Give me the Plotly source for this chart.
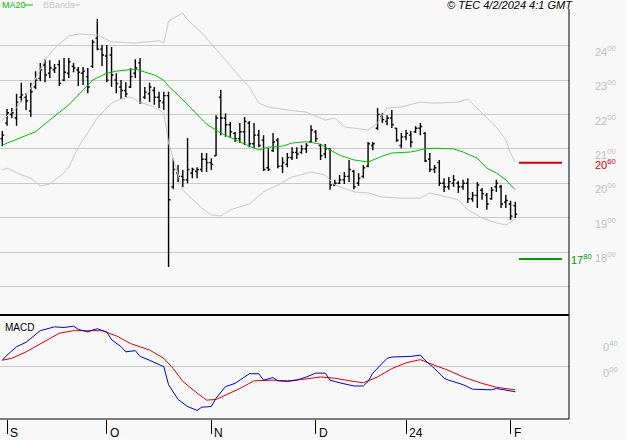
import plotly.graph_objects as go

W, H = 627, 440
def px(x): return x / W
def py(y): return 1 - y / H

# ---------------- data ----------------
# bar index 0 = 31 Aug 2023 ... 108 = 2 Feb 2024 (trading days)
highs = [2152, 2216, 2219, 2260, 2292, 2262, 2292, 2326, 2350, 2361,
         2358, 2347, 2358, 2364, 2364, 2350, 2338, 2338, 2335, 2417,
         2478, 2402, 2402, 2396, 2320, 2300, 2294, 2335, 2361, 2364,
         2280, 2292, 2280, 2266, 2266, 2266, 2073, 2053, 2039, 2132,
         2045, 2047, 2088, 2088, 2073, 2198, 2271, 2204, 2178, 2149,
         2175, 2193, 2181, 2175, 2155, 2140, 2102, 2146, 2132, 2076,
         2088, 2105, 2105, 2111, 2117, 2169, 2155, 2114, 2114, 2102,
         2010, 2024, 2033, 2068, 2039, 2030, 2053, 2120, 2120, 2219,
         2204, 2198, 2213, 2161, 2146, 2155, 2152, 2166, 2175, 2149,
         2088, 2053, 2068, 2015, 2018, 2024, 2007, 2010, 2015, 1975,
         2004, 1986, 1972, 1989, 2010, 1995, 1966, 1949, 1946]
lows = [2108, 2167, 2190, 2167, 2236, 2213, 2193, 2274, 2297, 2294,
        2306, 2321, 2283, 2297, 2306, 2323, 2283, 2286, 2262, 2335,
        2387, 2341, 2294, 2280, 2262, 2245, 2251, 2277, 2306, 2231,
        2245, 2236, 2228, 2219, 2213, 1757, 1983, 2004, 1989, 2000,
        2015, 2015, 2033, 2033, 2039, 2079, 2140, 2135, 2132, 2120,
        2117, 2111, 2105, 2102, 2105, 2036, 2036, 2091, 2044, 2030,
        2047, 2068, 2071, 2085, 2088, 2117, 2120, 2068, 2073, 1981,
        1992, 1998, 1998, 2004, 1983, 1992, 2015, 2047, 2096, 2155,
        2175, 2169, 2161, 2120, 2102, 2125, 2105, 2146, 2140, 2062,
        2033, 2030, 1992, 1975, 1981, 1989, 1972, 1981, 1943, 1946,
        1928, 1952, 1923, 1952, 1975, 1928, 1928, 1893, 1899]
opens = [2130, 2175, 2200, 2190, 2250, 2250, 2210, 2280, 2305, 2344,
         2320, 2330, 2345, 2300, 2320, 2340, 2330, 2320, 2310, 2340,
         2422, 2390, 2370, 2373, 2300, 2280, 2270, 2280, 2320, 2350,
         2250, 2260, 2270, 2250, 2235, 2255, 1990, 2030, 2020, 2010,
         2030, 2035, 2040, 2070, 2060, 2080, 2250, 2190, 2170, 2145,
         2130, 2150, 2175, 2115, 2140, 2125, 2045, 2095, 2125, 2050,
         2055, 2075, 2090, 2090, 2100, 2120, 2150, 2110, 2085, 2100,
         1995, 2000, 2010, 2020, 2035, 2000, 2020, 2050, 2110, 2160,
         2195, 2180, 2190, 2160, 2110, 2135, 2140, 2150, 2160, 2145,
         2070, 2040, 2060, 2000, 1990, 2000, 2000, 1990, 2000, 1955,
         1965, 1980, 1965, 1955, 1990, 1990, 1945, 1940, 1935]
closes = [2140, 2205, 2205, 2236, 2257, 2240, 2266, 2300, 2330, 2315,
          2335, 2335, 2291, 2323, 2353, 2335, 2323, 2326, 2280, 2410,
          2390, 2373, 2300, 2315, 2290, 2270, 2260, 2310, 2335, 2235,
          2265, 2280, 2250, 2240, 2255, 1952, 2040, 2020, 2010, 2040,
          2040, 2040, 2070, 2060, 2055, 2190, 2190, 2170, 2150, 2130,
          2150, 2180, 2115, 2140, 2110, 2040, 2040, 2120, 2050, 2060,
          2075, 2090, 2085, 2100, 2110, 2155, 2130, 2080, 2100, 1995,
          2000, 2010, 2020, 2040, 1990, 2015, 2045, 2115, 2115, 2200,
          2185, 2190, 2170, 2125, 2135, 2145, 2120, 2160, 2165, 2065,
          2040, 2045, 2000, 1990, 2005, 2010, 1990, 2000, 1955, 1965,
          1995, 1970, 1940, 1980, 2000, 1940, 1950, 1905, 1910]
bar_idx = list(range(len(highs)))

ma20_idx = [0, 4, 7, 10, 14, 17, 19, 22, 24, 28, 32, 34, 35, 37, 40, 43, 46, 49,
            52, 54, 56, 59, 61, 64, 67, 69, 71, 74, 77, 80, 82, 86, 89, 91, 95,
            97, 100, 102, 104, 106, 108]
ma20_val = [2111, 2134, 2150, 2184, 2228, 2271, 2300, 2320, 2326, 2332, 2315,
            2300, 2282, 2257, 2213, 2172, 2146, 2126, 2108, 2097, 2105, 2108,
            2117, 2121, 2114, 2097, 2082, 2068, 2062, 2079, 2088, 2091, 2100,
            2102, 2100, 2091, 2073, 2044, 2030, 2010, 1981]

bbu_idx = [0, 3, 6, 9, 11, 14, 16, 20, 23, 28, 33, 34, 35, 38, 39, 42, 47, 50,
           52, 54, 56, 60, 64, 68, 70, 72, 77, 79, 81, 84, 88, 91, 96, 98, 101,
           104, 106, 107, 108]
bbu_val = [2184, 2219, 2277, 2358, 2393, 2428, 2434, 2431, 2411, 2408, 2414,
           2408, 2472, 2495, 2475, 2437, 2358, 2309, 2280, 2233, 2222, 2213,
           2207, 2184, 2190, 2164, 2155, 2175, 2219, 2222, 2236, 2233, 2236,
           2245, 2204, 2164, 2126, 2088, 2062]

bbl_idx = [0, 1, 4, 6, 8, 10, 13, 14, 16, 20, 23, 25, 27, 29, 32, 34, 35, 36,
           38, 42, 44, 46, 48, 52, 55, 58, 61, 65, 68, 70, 74, 77, 80, 84, 88,
           90, 93, 96, 98, 101, 104, 106, 108]
bbl_val = [2039, 2044, 2024, 2015, 1992, 1998, 2030, 2047, 2105, 2190, 2233,
           2245, 2251, 2236, 2222, 2204, 2117, 2073, 1980, 1928, 1908, 1905,
           1923, 1940, 1975, 1995, 2018, 2033, 2024, 1995, 1975, 1972, 1960,
           1957, 1957, 1972, 1963, 1952, 1923, 1899, 1885, 1879, 1896]

macd_idx = [0, 1, 3, 5, 6, 8, 10, 11, 13, 15, 16, 18, 19, 20, 22, 23, 25, 26,
            28, 29, 31, 33, 34, 35, 36, 37, 39, 41, 42, 44, 45, 47, 49, 51, 52,
            54, 55, 57, 58, 60, 62, 64, 66, 68, 69, 71, 74, 76, 77, 78, 80, 81,
            82, 85, 86, 88, 89, 91, 93, 94, 95, 97, 99, 101, 103, 104, 106, 108]
macd_val = [10, 18, 31, 38, 44, 56, 60, 62, 61, 63, 58, 54, 57, 59, 54, 42, 31,
            23, 25, 16, 10, 3, 0, -28, -39, -51, -62, -68, -63, -62, -49, -31,
            -26, -16, -11, -11, -21, -17, -22, -23, -21, -16, -10, -10, -21,
            -25, -30, -30, -23, -10, 5, 13, 15, 15, 16, 18, 10, -3, -18, -21,
            -23, -28, -35, -35, -36, -34, -36, -39]

sig_idx = [0, 2, 5, 7, 10, 12, 15, 17, 21, 24, 27, 31, 34, 36, 38, 41, 43, 45,
           47, 50, 53, 57, 60, 63, 67, 70, 74, 76, 79, 82, 85, 88, 90, 94, 97,
           101, 104, 106, 108]
sig_val = [10, 13, 23, 31, 44, 52, 56, 56, 56, 48, 36, 26, 13, -3, -23, -41,
           -52, -51, -44, -34, -22, -21, -22, -20, -16, -18, -23, -25, -16, -3,
           6, 11, 5, -6, -16, -26, -32, -34, -36]

month_idx = [1, 22, 44, 66, 85, 107]
month_lbl = ["S", "O", "N", "D", "24", "F"]

price_ticks = [1700, 1800, 1900, 2000, 2100, 2200, 2300, 2400]
macd_ticks = [0, 40]
resist_level = 2060
support_level = 1780

# ---------------- figure ----------------
FONT = "Liberation Sans, Arial, sans-serif"
GRID = "#c8c8c8"
fig = go.Figure()

fig.add_trace(go.Scatter(x=bbu_idx, y=bbu_val, mode="lines",
                         line=dict(color="#c8c8c8", width=1), xaxis="x", yaxis="y",
                         hoverinfo="skip"))
fig.add_trace(go.Scatter(x=bbl_idx, y=bbl_val, mode="lines",
                         line=dict(color="#c8c8c8", width=1), xaxis="x", yaxis="y",
                         hoverinfo="skip"))
fig.add_trace(go.Scatter(x=ma20_idx, y=ma20_val, mode="lines",
                         line=dict(color="#00c000", width=1), xaxis="x", yaxis="y"))
fig.add_trace(go.Ohlc(x=bar_idx, open=opens, high=highs, low=lows, close=closes,
                      increasing=dict(line=dict(color="black", width=1.4)),
                      decreasing=dict(line=dict(color="black", width=1.4)),
                      tickwidth=0.4, xaxis="x", yaxis="y"))
fig.add_trace(go.Scatter(x=sig_idx, y=sig_val, mode="lines",
                         line=dict(color="#dd0000", width=1), xaxis="x", yaxis="y2"))
fig.add_trace(go.Scatter(x=macd_idx, y=macd_val, mode="lines",
                         line=dict(color="#0000dd", width=1), xaxis="x", yaxis="y2"))

x_right = 569
fig.update_layout(
    width=W, height=H, margin=dict(l=0, r=0, t=0, b=0),
    paper_bgcolor="#f8f8f8", plot_bgcolor="#f8f8f8", showlegend=False,
    font=dict(family=FONT, size=11, color="black"),
    xaxis=dict(domain=[0, px(x_right)], range=[-0.484, 119.3], anchor="y2",
               showgrid=False, zeroline=False, showline=False,
               ticks="outside", ticklen=14, tickwidth=1, tickcolor="black",
               tickvals=month_idx, showticklabels=False,
               rangeslider=dict(visible=False), fixedrange=True),
    yaxis=dict(domain=[py(315), 1], range=[1617.1, 2532.9], tickvals=price_ticks,
               showgrid=True, gridcolor=GRID, gridwidth=1, showticklabels=False,
               zeroline=False, showline=False, fixedrange=True),
    yaxis2=dict(domain=[py(419), py(315)], range=[-81.4, 80.4], tickvals=[0],
                showgrid=True, gridcolor=GRID, gridwidth=1, showticklabels=False,
                zeroline=False, showline=False, fixedrange=True),
)

shapes = [
    dict(type="line", xref="paper", yref="paper", x0=0, x1=px(x_right),
         y0=py(315), y1=py(315), line=dict(color="black", width=2)),
    dict(type="line", xref="paper", yref="paper", x0=0, x1=px(x_right),
         y0=py(419), y1=py(419), line=dict(color="black", width=1)),
    dict(type="line", xref="paper", yref="paper", x0=px(x_right), x1=px(x_right),
         y0=py(9), y1=py(419), line=dict(color="black", width=1)),
    dict(type="line", xref="paper", yref="y", x0=px(519), x1=px(562),
         y0=resist_level, y1=resist_level, line=dict(color="#cc0000", width=2)),
    dict(type="line", xref="paper", yref="y", x0=px(519), x1=px(562),
         y0=support_level, y1=support_level, line=dict(color="#009900", width=2)),
    dict(type="line", xref="paper", yref="paper", x0=px(25), x1=px(33),
         y0=py(5), y1=py(5), line=dict(color="#00c000", width=1)),
    dict(type="line", xref="paper", yref="paper", x0=px(72), x1=px(80),
         y0=py(5), y1=py(5), line=dict(color="#c8c8c8", width=1)),
]
fig.update_layout(shapes=shapes)

ann = []
def split_lbl(v):
    s = str(int(v)).rjust(3, "0") if v < 100 else str(int(v))
    return f"{s[:-2]}<sup>{s[-2:]}</sup>"

for v in price_ticks[1:]:
    ann.append(dict(xref="paper", yref="y", x=px(593), y=v, yshift=-5,
                    xanchor="left", yanchor="middle", showarrow=False,
                    text=split_lbl(v), font=dict(color="#c0c0c0", size=11)))
ann.append(dict(xref="paper", yref="y", x=px(593), y=resist_level, yshift=-1,
                xanchor="left", yanchor="middle", showarrow=False,
                text=split_lbl(resist_level), font=dict(color="#cc0000", size=11)))
ann.append(dict(xref="paper", yref="y", x=px(569), y=support_level,
                xanchor="left", yanchor="middle", showarrow=False,
                text=split_lbl(support_level), font=dict(color="#009900", size=11)))
for v in macd_ticks:
    ann.append(dict(xref="paper", yref="y2", x=px(601), y=v, yshift=-5,
                    xanchor="left", yanchor="middle", showarrow=False,
                    text=split_lbl(v), font=dict(color="#c0c0c0", size=11)))
for i, lbl in zip(month_idx, month_lbl):
    ann.append(dict(xref="x", yref="paper", x=i, y=py(433), xshift=1,
                    xanchor="left", yanchor="middle", showarrow=False,
                    text=lbl, font=dict(size=12)))
ann.append(dict(xref="paper", yref="paper", x=px(3), y=py(327), xanchor="left",
                yanchor="middle", showarrow=False, text="MACD", font=dict(size=10)))
ann.append(dict(xref="paper", yref="paper", x=px(0), y=py(5), xanchor="left",
                yanchor="middle", showarrow=False, text="MA20",
                font=dict(size=9, color="#00c000")))
ann.append(dict(xref="paper", yref="paper", x=px(41), y=py(5), xanchor="left",
                yanchor="middle", showarrow=False, text="BBands",
                font=dict(size=9, color="#c8c8c8")))
ann.append(dict(xref="paper", yref="paper", x=px(575), y=py(5), xanchor="right",
                yanchor="middle", showarrow=False,
                text="<i>© TEC 4/2/2024 4:1 GMT</i>", font=dict(size=11)))
fig.update_layout(annotations=ann)

fig.write_html("out.html")
